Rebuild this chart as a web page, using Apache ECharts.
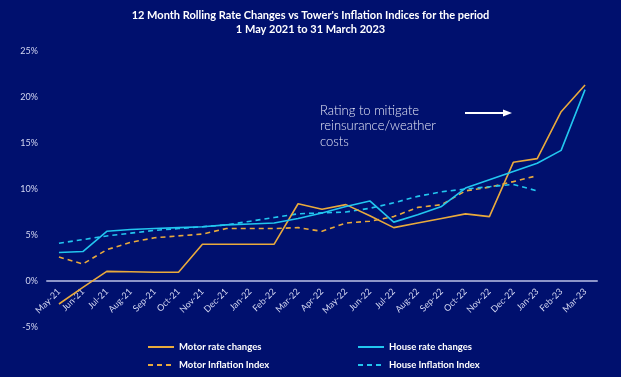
<!DOCTYPE html>
<html>
<head>
<meta charset="utf-8">
<script src="https://cdn.jsdelivr.net/npm/echarts@6/dist/echarts.min.js"></script>
<style>
  html, body { margin: 0; padding: 0; background: #00106e; }
  #chart { width: 621px; height: 377px; }
</style>
</head>
<body>
<div id="chart"></div>
<script>
const months = ['May-21', 'Jun-21', 'Jul-21', 'Aug-21', 'Sep-21', 'Oct-21', 'Nov-21', 'Dec-21',
  'Jan-22', 'Feb-22', 'Mar-22', 'Apr-22', 'May-22', 'Jun-22', 'Jul-22', 'Aug-22', 'Sep-22',
  'Oct-22', 'Nov-22', 'Dec-22', 'Jan-23', 'Feb-23', 'Mar-23']

const motorRate = [-2.5, -0.7, 1.05, 1.0, 0.95, 0.95, 4.0, 4.0, 4.0, 4.0, 8.4, 7.8, 8.3, 7.1,
  5.8, 6.3, 6.8, 7.3, 7.0, 12.9, 13.3, 18.4, 21.3]
const houseRate = [3.1, 3.2, 5.4, 5.6, 5.7, 5.8, 5.9, 6.1, 6.2, 6.3, 6.8, 7.4, 8.1, 8.7,
  6.4, 7.2, 8.1, 10.1, 11.0, 11.9, 12.8, 14.2, 20.8]
const motorInflation = [2.6, 1.85, 3.4, 4.2, 4.7, 4.9, 5.1, 5.7, 5.7, 5.7, 5.8, 5.4, 6.3, 6.5,
  7.0, 8.0, 8.3, 9.8, 10.2, 10.8, 11.45, null, null]
const houseInflation = [4.1, 4.5, 4.9, 5.2, 5.5, 5.7, 5.9, 6.1, 6.5, 6.9, 7.3, 7.4, 7.5, 7.9,
  8.5, 9.2, 9.7, 10.0, 10.25, 10.5, 9.8, null, null]

const yTicks = [-5, 0, 5, 10, 15, 20, 25]

const gold = '#e9aa3c'
const cyan = '#22c6ef'
const font = 'Lato, "Open Sans", sans-serif'

const chart = echarts.init(document.getElementById('chart'))

const lineSeries = (name, data, color, dashed) => ({
  name,
  type: 'line',
  data,
  symbol: 'none',
  connectNulls: false,
  lineStyle: { color, width: 1.6, type: dashed ? [5, 4] : 'solid' },
  itemStyle: { color },
  z: dashed ? 2 : 3
})

// one legend per entry so the 2x2 layout stays put
const legendItem = (name, left, top) => ({
  data: [name],
  left,
  top,
  padding: 0,
  itemWidth: 26,
  itemHeight: 10,
  itemGap: 4,
  itemStyle: { opacity: 0 },
  textStyle: { color: '#ffffff', fontSize: 9.5, fontWeight: 'bold', fontFamily: font }
})

chart.setOption({
  backgroundColor: '#00106e',
  animation: false,
  title: {
    text: "12 Month Rolling Rate Changes vs Tower's Inflation Indices for the period\n1 May 2021 to 31 March 2023",
    left: 'center',
    top: 3,
    textStyle: { color: '#ffffff', fontSize: 11, fontWeight: 'bold', lineHeight: 14, fontFamily: font }
  },
  legend: [
    legendItem('Motor rate changes', 147, 342),
    legendItem('Motor Inflation Index', 147, 360),
    legendItem('House rate changes', 357, 342),
    legendItem('House Inflation Index', 357, 360)
  ],
  grid: { left: 47, right: 24, top: 51, bottom: 50 },
  xAxis: {
    type: 'category',
    data: months,
    boundaryGap: true,
    axisLine: { onZero: true, lineStyle: { color: '#8d95c9', width: 2 } },
    axisTick: { show: false },
    axisLabel: {
      rotate: 45,
      interval: 0,
      color: '#d3d7f2',
      fontSize: 9,
      fontFamily: font,
      margin: -37
    }
  },
  yAxis: {
    type: 'value',
    min: yTicks[0],
    max: yTicks[yTicks.length - 1],
    interval: 5,
    splitLine: { show: false },
    axisLine: { show: false },
    axisTick: { show: false },
    axisLabel: {
      formatter: '{value}%',
      color: '#d3d7f2',
      fontSize: 9,
      fontFamily: font,
      margin: 9
    }
  },
  graphic: [
    {
      type: 'text',
      left: 320,
      top: 103,
      style: {
        text: 'Rating to mitigate\nreinsurance/weather\ncosts',
        fill: '#e6e8f7',
        font: '300 13px ' + font,
        lineHeight: 15.5
      }
    },
    {
      type: 'line',
      shape: { x1: 465, y1: 113, x2: 506, y2: 113 },
      style: { stroke: '#ffffff', lineWidth: 2 }
    },
    {
      type: 'polygon',
      shape: { points: [[503, 109.5], [512, 113], [503, 116.5]] },
      style: { fill: '#ffffff' }
    }
  ],
  series: [
    lineSeries('Motor rate changes', motorRate, gold, false),
    lineSeries('House rate changes', houseRate, cyan, false),
    lineSeries('Motor Inflation Index', motorInflation, gold, true),
    lineSeries('House Inflation Index', houseInflation, cyan, true)
  ]
})

window.addEventListener('resize', () => chart.resize())
</script>
</body>
</html>
